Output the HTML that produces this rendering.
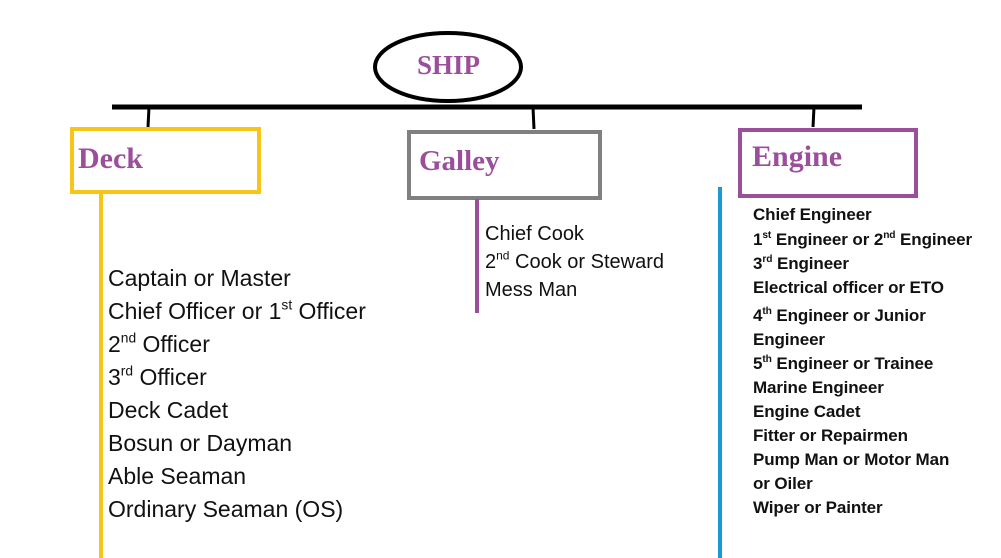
<!DOCTYPE html>
<html><head><style>
body{margin:0;width:1001px;height:558px;background:#fff;position:relative;overflow:hidden;font-family:"Liberation Sans",sans-serif}
.t{position:absolute;white-space:nowrap;line-height:1}
.h{font-family:"Liberation Serif",serif;font-weight:bold;color:#9b4f9b}
.d{font-size:23px;color:#111;left:108px}
.g{font-size:20px;color:#111;left:485px}
.e{font-size:17px;font-weight:bold;color:#111;left:753px;letter-spacing:-0.1px}
sup{font-size:0.6em;line-height:0;vertical-align:0.7em}
</style></head><body>
<svg width="1001" height="558" style="position:absolute;left:0;top:0">
<ellipse cx="448" cy="67" rx="73" ry="34" fill="none" stroke="#000" stroke-width="4"/>
<line x1="112" y1="107" x2="862" y2="107" stroke="#000" stroke-width="5"/>
<line x1="149" y1="107" x2="148" y2="127" stroke="#000" stroke-width="3"/>
<line x1="533" y1="107" x2="534" y2="129" stroke="#000" stroke-width="3"/>
<line x1="814" y1="107" x2="813" y2="127" stroke="#000" stroke-width="3"/>
<rect x="72" y="129" width="187" height="63" fill="none" stroke="#f5c518" stroke-width="4"/>
<rect x="409" y="132" width="191" height="66" fill="none" stroke="#808080" stroke-width="4"/>
<rect x="740" y="130" width="176" height="66" fill="none" stroke="#9b4f9b" stroke-width="4"/>
<line x1="101" y1="193" x2="101" y2="558" stroke="#f5c518" stroke-width="4"/>
<line x1="477" y1="199" x2="477" y2="313" stroke="#9b4f9b" stroke-width="4"/>
<line x1="720" y1="187" x2="720" y2="558" stroke="#1a9ad6" stroke-width="4"/>
</svg>
<div class="t h" style="left:417px;top:52px;font-size:27px">SHIP</div>
<div class="t h" style="left:78px;top:144px;font-size:30px">Deck</div>
<div class="t h" style="left:419px;top:147px;font-size:29px">Galley</div>
<div class="t h" style="left:752px;top:142px;font-size:30px">Engine</div>

<div class="t d" style="top:267px">Captain or Master</div>
<div class="t d" style="top:300px">Chief Officer or 1<sup>st</sup> Officer</div>
<div class="t d" style="top:333px">2<sup>nd</sup> Officer</div>
<div class="t d" style="top:366px">3<sup>rd</sup> Officer</div>
<div class="t d" style="top:399px">Deck Cadet</div>
<div class="t d" style="top:432px">Bosun or Dayman</div>
<div class="t d" style="top:465px">Able Seaman</div>
<div class="t d" style="top:498px">Ordinary Seaman (OS)</div>

<div class="t g" style="top:224px">Chief Cook</div>
<div class="t g" style="top:252px">2<sup>nd</sup> Cook or Steward</div>
<div class="t g" style="top:280px">Mess Man</div>

<div class="t e" style="top:206px">Chief Engineer</div>
<div class="t e" style="top:231px">1<sup>st</sup> Engineer or 2<sup>nd</sup> Engineer</div>
<div class="t e" style="top:255px">3<sup>rd</sup> Engineer</div>
<div class="t e" style="top:279px">Electrical officer or ETO</div>
<div class="t e" style="top:307px">4<sup>th</sup> Engineer or Junior</div>
<div class="t e" style="top:331px">Engineer</div>
<div class="t e" style="top:355px">5<sup>th</sup> Engineer or Trainee</div>
<div class="t e" style="top:379px">Marine Engineer</div>
<div class="t e" style="top:403px">Engine Cadet</div>
<div class="t e" style="top:427px">Fitter or Repairmen</div>
<div class="t e" style="top:451px">Pump Man or Motor Man</div>
<div class="t e" style="top:475px">or Oiler</div>
<div class="t e" style="top:499px">Wiper or Painter</div>
</body></html>
